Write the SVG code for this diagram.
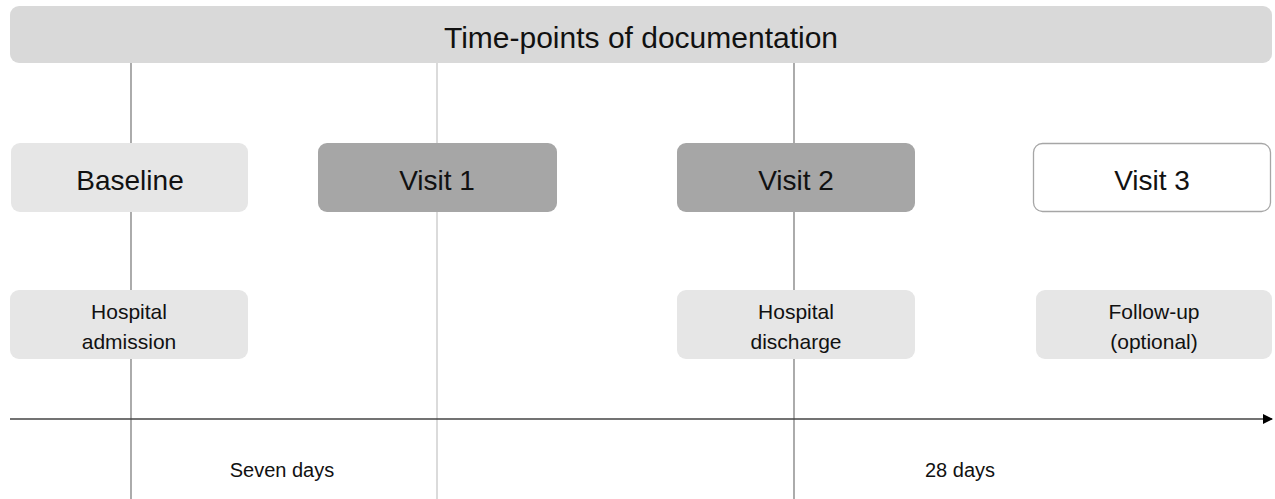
<svg xmlns="http://www.w3.org/2000/svg" width="1275" height="499" viewBox="0 0 1275 499">
  <defs>
    <marker id="arrow" viewBox="0 0 10 10" refX="9" refY="5" markerWidth="10" markerHeight="10" markerUnits="userSpaceOnUse" orient="auto">
      <path d="M0,0 L10,5 L0,10 z" fill="#000"/>
    </marker>
    <style>
      text { font-family: "Liberation Sans", Arial, sans-serif; fill: #111; text-anchor: middle; dominant-baseline: central; }
      .title { font-size: 30px; }
      .big { font-size: 28px; }
      .small { font-size: 21px; }
      .days { font-size: 20px; }
      .bar { fill: #d9d9d9; }
      .light { fill: #e6e6e6; }
      .dark { fill: #a6a6a6; }
      .open { fill: #fff; stroke: #a6a6a6; stroke-width: 1.3; }
      .tick { stroke: #7f7f7f; stroke-width: 1.3; }
      .tick-light { stroke: #c8c8c8; stroke-width: 1.3; }
      .axis { stroke: #444; stroke-width: 1.3; }
    </style>
  </defs>

  <rect width="1275" height="499" fill="#fff"/>

  <!-- connectors: time markers and the time axis -->
  <g id="connectors">
    <line class="tick" x1="131" y1="60" x2="131" y2="499"/>
    <line class="tick-light" x1="437" y1="60" x2="437" y2="499"/>
    <line class="tick" x1="794" y1="60" x2="794" y2="499"/>
    <line class="axis" x1="10" y1="419" x2="1272" y2="419" marker-end="url(#arrow)"/>
  </g>

  <g id="title">
    <rect class="bar" x="10" y="6" width="1262" height="57" rx="9"/>
    <text class="title" x="641" y="37">Time-points of documentation</text>
  </g>

  <g id="baseline">
    <rect class="light" x="11" y="143" width="237" height="69" rx="9"/>
    <text class="big" x="130" y="180">Baseline</text>
  </g>
  <g id="visit1">
    <rect class="dark" x="318" y="143" width="239" height="69" rx="9"/>
    <text class="big" x="437" y="180">Visit 1</text>
  </g>
  <g id="visit2">
    <rect class="dark" x="677" y="143" width="238" height="69" rx="9"/>
    <text class="big" x="796" y="180">Visit 2</text>
  </g>
  <g id="visit3">
    <rect class="open" x="1033.5" y="143.5" width="237" height="68" rx="9"/>
    <text class="big" x="1152" y="180">Visit 3</text>
  </g>

  <g id="admission">
    <rect class="light" x="10" y="290" width="238" height="69" rx="9"/>
    <text class="small" x="129" y="311">Hospital</text>
    <text class="small" x="129" y="341">admission</text>
  </g>
  <g id="discharge">
    <rect class="light" x="677" y="290" width="238" height="69" rx="9"/>
    <text class="small" x="796" y="311">Hospital</text>
    <text class="small" x="796" y="341">discharge</text>
  </g>
  <g id="followup">
    <rect class="light" x="1036" y="290" width="236" height="69" rx="9"/>
    <text class="small" x="1154" y="311">Follow-up</text>
    <text class="small" x="1154" y="341">(optional)</text>
  </g>

  <g id="seven-days">
    <text class="days" x="282" y="470">Seven days</text>
  </g>
  <g id="twenty-eight-days">
    <text class="days" x="960" y="470">28 days</text>
  </g>
</svg>
